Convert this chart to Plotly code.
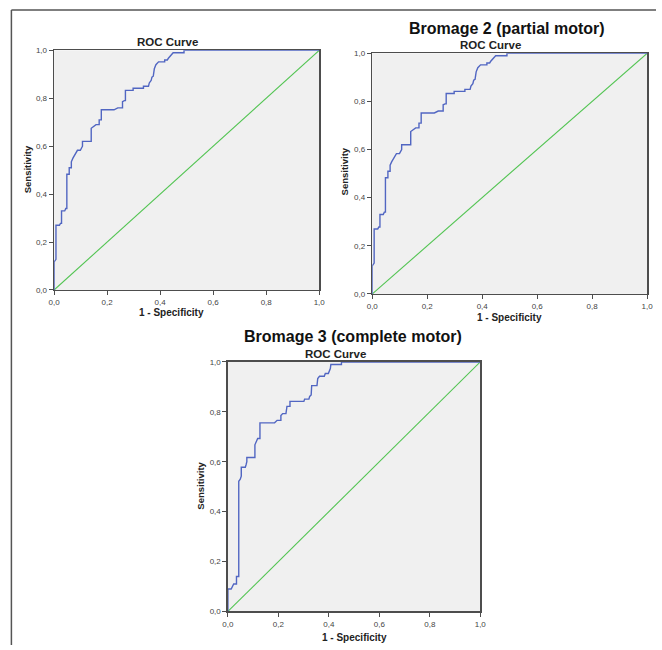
import plotly.graph_objects as go

W, H = 662, 650

# ---------------- data ----------------
tick_vals = [0.0, 0.2, 0.4, 0.6, 0.8, 1.0]
tick_text = ["0,0", "0,2", "0,4", "0,6", "0,8", "1,0"]

chart_titles = ["", "Bromage 2 (partial motor)", "Bromage 3 (complete motor)"]
sub_title = "ROC Curve"
x_title = "1 - Specificity"
y_title = "Sensitivity"

fpr_b1 = [0.000, 0.000, 0.007, 0.007, 0.020, 0.024, 0.028, 0.028, 0.040, 0.044, 0.048, 0.048,
          0.057, 0.057, 0.065, 0.065, 0.071, 0.078, 0.083, 0.088, 0.099, 0.107, 0.107, 0.140,
          0.140, 0.148, 0.158, 0.170, 0.170, 0.178, 0.178, 0.226, 0.232, 0.240, 0.258, 0.258,
          0.265, 0.269, 0.269, 0.298, 0.298, 0.337, 0.337, 0.356, 0.359, 0.366, 0.369, 0.374,
          0.378, 0.384, 0.394, 0.417, 0.417, 0.427, 0.431, 0.436, 0.441, 0.449, 0.490, 0.490, 1.000]
tpr_b1 = [0.000, 0.117, 0.128, 0.270, 0.270, 0.278, 0.278, 0.330, 0.330, 0.340, 0.340, 0.483,
          0.483, 0.510, 0.510, 0.535, 0.550, 0.565, 0.572, 0.583, 0.583, 0.600, 0.620, 0.620,
          0.675, 0.683, 0.690, 0.690, 0.710, 0.710, 0.752, 0.752, 0.757, 0.760, 0.760, 0.786,
          0.790, 0.790, 0.833, 0.833, 0.842, 0.842, 0.850, 0.850, 0.864, 0.874, 0.888, 0.892,
          0.923, 0.940, 0.952, 0.952, 0.960, 0.960, 0.967, 0.973, 0.980, 0.990, 0.990, 1.000, 1.000]

fpr_b2 = [0.000, 0.000, 0.007, 0.007, 0.020, 0.024, 0.028, 0.028, 0.040, 0.044, 0.048, 0.048,
          0.057, 0.057, 0.065, 0.065, 0.071, 0.078, 0.083, 0.088, 0.099, 0.107, 0.107, 0.140,
          0.140, 0.148, 0.158, 0.170, 0.170, 0.178, 0.178, 0.226, 0.232, 0.240, 0.258, 0.258,
          0.265, 0.269, 0.269, 0.298, 0.298, 0.337, 0.337, 0.356, 0.359, 0.366, 0.369, 0.374,
          0.378, 0.384, 0.394, 0.417, 0.417, 0.427, 0.431, 0.436, 0.441, 0.449, 0.490, 0.490, 1.000]
tpr_b2 = [0.000, 0.117, 0.128, 0.270, 0.270, 0.278, 0.278, 0.330, 0.330, 0.340, 0.340, 0.483,
          0.483, 0.510, 0.510, 0.535, 0.550, 0.565, 0.572, 0.583, 0.583, 0.600, 0.620, 0.620,
          0.675, 0.683, 0.690, 0.690, 0.710, 0.710, 0.752, 0.752, 0.757, 0.760, 0.760, 0.786,
          0.790, 0.790, 0.833, 0.833, 0.842, 0.842, 0.850, 0.850, 0.864, 0.874, 0.888, 0.892,
          0.923, 0.940, 0.952, 0.952, 0.960, 0.960, 0.967, 0.973, 0.980, 0.990, 0.990, 1.000, 1.000]

fpr_b3 = [0.000, 0.000, 0.013, 0.017, 0.023, 0.034, 0.034, 0.043, 0.043, 0.049, 0.053, 0.053,
          0.069, 0.072, 0.075, 0.075, 0.107, 0.107, 0.114, 0.118, 0.127, 0.127, 0.185, 0.191,
          0.195, 0.210, 0.210, 0.217, 0.230, 0.234, 0.246, 0.246, 0.301, 0.304, 0.321, 0.324,
          0.330, 0.332, 0.353, 0.356, 0.363, 0.382, 0.386, 0.398, 0.402, 0.406, 0.408, 0.450,
          0.450, 1.000]
tpr_b3 = [0.000, 0.090, 0.090, 0.100, 0.110, 0.110, 0.140, 0.140, 0.522, 0.530, 0.542, 0.578,
          0.578, 0.588, 0.600, 0.617, 0.617, 0.668, 0.683, 0.693, 0.693, 0.756, 0.756, 0.763,
          0.766, 0.766, 0.785, 0.793, 0.793, 0.822, 0.822, 0.842, 0.842, 0.851, 0.851, 0.862,
          0.868, 0.905, 0.905, 0.934, 0.943, 0.943, 0.954, 0.954, 0.963, 0.974, 0.990, 0.990,
          1.000, 1.000]

ref_line = [0.0, 1.0]

# ---------------- layout helpers (window pixels -> paper) ----------------
def px(x):
    return x / W

def py(y):
    return 1 - y / H

FONT = "Liberation Sans, Arial, sans-serif"
BLUE = "#5166c2"
GREEN = "#52c452"
AXIS = "#4d4d4d"

# plot areas in window pixels: (left, right, top, bottom)
boxes = [(49, 319, 47, 290), (373, 653, 50, 294), (226, 483, 363, 616)]
main_pos = [None, (510, 25), (353, 337)]
sub_pos = [(164, 39), (493, 42), (336, 355)]
xt_pos = [(169, 313), (513, 318), (355, 642)]
yt_pos = [(22, 168), (345, 170), (198, 488)]

series = [(fpr_b1, tpr_b1), (fpr_b2, tpr_b2), (fpr_b3, tpr_b3)]

fig = go.Figure()
annotations = []
layout_axes = {}

for i, ((l, r, t, b), (fx, ty)) in enumerate(zip(boxes, series)):
    n = "" if i == 0 else str(i + 1)
    xa, ya = "x" + n, "y" + n
    fig.add_trace(go.Scatter(x=ref_line, y=ref_line, mode="lines",
                             line=dict(color=GREEN, width=1.1),
                             xaxis=xa, yaxis=ya, showlegend=False, hoverinfo="skip"))
    fig.add_trace(go.Scatter(x=fx, y=ty, mode="lines",
                             line=dict(color=BLUE, width=1.4),
                             xaxis=xa, yaxis=ya, showlegend=False))
    common = dict(range=[0, 1], tickvals=tick_vals, ticktext=tick_text,
                  showgrid=False, zeroline=False, showline=True, mirror=True,
                  linecolor=AXIS, linewidth=1.5, ticks="outside", ticklen=4,
                  tickcolor=AXIS, tickwidth=1,
                  tickfont=dict(family=FONT, size=8, color="#444444"))
    layout_axes["xaxis" + n] = dict(common, domain=[px(l), px(r)], anchor=ya)
    layout_axes["yaxis" + n] = dict(common, domain=[py(b), py(t)], anchor=xa)

    if chart_titles[i]:
        mx, my = main_pos[i]
        annotations.append(dict(text="<b>" + chart_titles[i] + "</b>", x=px(mx), y=py(my),
                                xref="paper", yref="paper", showarrow=False,
                                xanchor="center", yanchor="middle",
                                font=dict(family=FONT, size=16, color="#111111")))
    sx, sy = sub_pos[i]
    annotations.append(dict(text="<b>" + sub_title + "</b>", x=px(sx), y=py(sy),
                            xref="paper", yref="paper", showarrow=False,
                            xanchor="center", yanchor="middle",
                            font=dict(family=FONT, size=11.5, color="#222222")))
    tx, tyy = xt_pos[i]
    annotations.append(dict(text="<b>" + x_title + "</b>", x=px(tx), y=py(tyy),
                            xref="paper", yref="paper", showarrow=False,
                            xanchor="center", yanchor="middle",
                            font=dict(family=FONT, size=10, color="#222222")))
    yx, yy = yt_pos[i]
    annotations.append(dict(text="<b>" + y_title + "</b>", x=px(yx), y=py(yy),
                            xref="paper", yref="paper", showarrow=False, textangle=-90,
                            xanchor="center", yanchor="middle",
                            font=dict(family=FONT, size=9.5, color="#222222")))

shapes = [
    dict(type="line", xref="paper", yref="paper", x0=px(5.5), x1=px(5.5), y0=py(6), y1=0,
         line=dict(color="#555555", width=1.5)),
    dict(type="line", xref="paper", yref="paper", x0=px(5.5), x1=1, y0=py(6), y1=py(6),
         line=dict(color="#555555", width=1.5)),
]

fig.update_layout(width=W, height=H, margin=dict(l=0, r=0, t=0, b=0),
                  paper_bgcolor="white", plot_bgcolor="#f0f0f0", hovermode=False,
                  annotations=annotations, shapes=shapes, **layout_axes)

fig.write_html("out.html",
               config={"displayModeBar": False, "staticPlot": True},
               post_script="document.body.style.margin='0';"
                           "document.documentElement.style.overflow='hidden';")
